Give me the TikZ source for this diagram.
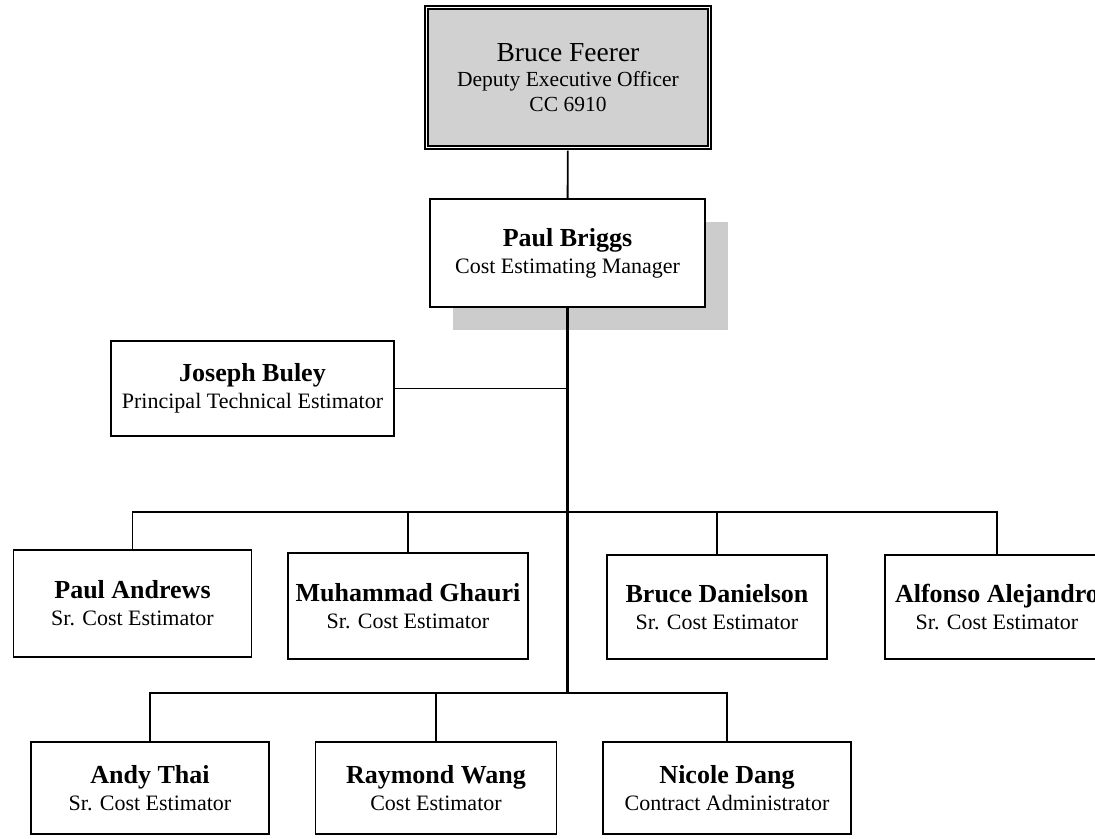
\documentclass[tikz,border=0pt]{standalone}
\usepackage{fontspec}
\setmainfont{Liberation Serif}
\usetikzlibrary{shadows}

\definecolor{headfill}{gray}{0.82}
\definecolor{shadowgray}{gray}{0.8}

\newcommand{\empname}[1]{{\fontsize{26}{27}\selectfont\bfseries #1}}

\tikzset{
    postbox/.style={draw, line width=1.9pt, fill=white, align=center, inner sep=0pt,
        font=\fontsize{22}{27}\selectfont},
    headbox/.style={draw, double, double distance=1.8pt, line width=1.2pt,
        fill=headfill, align=center, inner sep=0pt, font=\fontsize{21.5}{25}\selectfont},
    boxsize/.style 2 args={minimum width=#1pt, minimum height=#2pt},
    link/.style={line width=1.9pt},
    trunk/.style={line width=2.8pt},
}

\begin{document}
\begin{tikzpicture}[x=1pt, y=-1pt]
    \useasboundingbox (0,0) rectangle (1095,838);
    \clip (0,0) rectangle (1095,838);

    % head and manager
    \node[headbox, boxsize={283}{140}] (bf) at (568,77.5)
        {{\fontsize{27.5}{25}\selectfont Bruce Feerer}\\Deputy Executive Officer\\CC 6910};
    \node[postbox, boxsize={275}{108},
        drop shadow={shadow xshift=23pt, shadow yshift=-23pt, fill=shadowgray, opacity=1}]
        (pb) at (567.5,253) {\empname{Paul Briggs}\\Cost Estimating Manager};
    \node[postbox, boxsize={283}{95}] (jb) at (252.5,388.5)
        {\empname{Joseph Buley}\\Principal Technical Estimator};

    % first row of estimators
    \node[postbox, boxsize={238}{107}] (pa) at (132.5,603.5)
        {\empname{Paul Andrews}\\Sr. Cost Estimator};
    \node[postbox, boxsize={240}{106}] (mg) at (408,606)
        {\empname{Muhammad Ghauri}\\Sr. Cost Estimator};
    \node[postbox, boxsize={220}{104}] (bd) at (717,607)
        {\empname{Bruce Danielson}\\Sr. Cost Estimator};
    \node[postbox, boxsize={224}{104}] (aa) at (997,607)
        {\empname{Alfonso Alejandro}\\Sr. Cost Estimator};

    % second row
    \node[postbox, boxsize={238}{92}] (at) at (150,788)
        {\empname{Andy Thai}\\Sr. Cost Estimator};
    \node[postbox, boxsize={241}{92}] (rw) at (436,788)
        {\empname{Raymond Wang}\\Cost Estimator};
    \node[postbox, boxsize={248}{92}] (nd) at (727,788)
        {\empname{Nicole Dang}\\Contract Administrator};

    \coordinate (bus2) at (567.5,512);
    \coordinate (bus3) at (567.5,693);

    \draw[link, shorten <=2.5pt] (bf) -- (pb);
    \draw[trunk] (pb) -- (bus3);
    \draw[link] (jb) -- (jb -| pb);
    \draw[link] (pa) |- (bus2) -| (aa);
    \draw[link] (mg) -- (mg |- bus2);
    \draw[link] (bd) -- (bd |- bus2);
    \draw[link] (at) |- (bus3) -| (nd);
    \draw[link] (rw) -- (rw |- bus3);
\end{tikzpicture}
\end{document}
